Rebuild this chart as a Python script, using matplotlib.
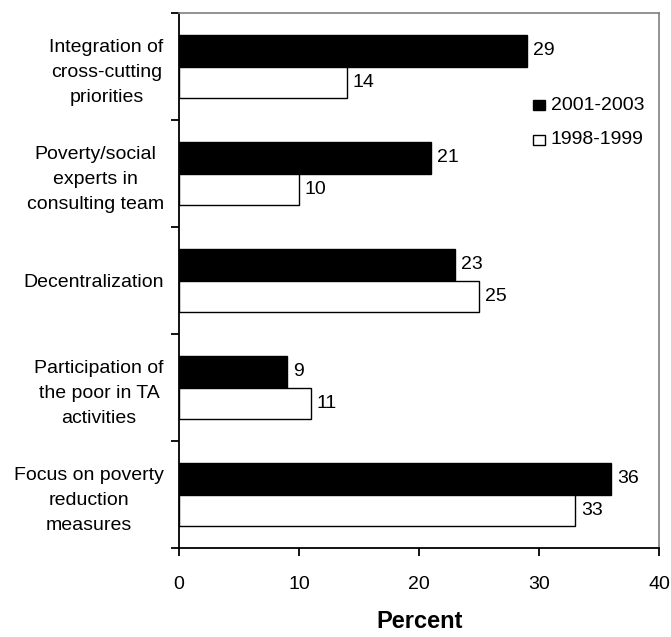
import numpy as np
import matplotlib.pyplot as plt
from matplotlib.patches import Rectangle

plt.rcParams['font.family'] = ['Liberation Sans', 'DejaVu Sans']

categories = ['Integration of\ncross-cutting\npriorities',
              'Poverty/social\nexperts in\nconsulting team',
              'Decentralization',
              'Participation of\nthe poor in TA\nactivities',
              'Focus on poverty\nreduction\nmeasures']
recent = [29, 21, 23, 9, 36]      # 2001-2003
earlier = [14, 10, 25, 11, 33]    # 1998-1999
series_names = ['2001-2003', '1998-1999']

fs = 14

fig = plt.figure(figsize=(6.71, 6.37), dpi=100)
ax = fig.add_axes([179 / 671, 89 / 637, 480 / 671, 535 / 637])

n = len(categories)
y = np.arange(n)[::-1]
h = 0.29

ax.barh(y + h / 2, recent, height=h, color='black', edgecolor='black', linewidth=1.0)
ax.barh(y - h / 2, earlier, height=h, color='white', edgecolor='black', linewidth=1.0)

for yi, v in zip(y, recent):
    ax.text(v + 0.5, yi + h / 2, str(v), va='center', ha='left', fontsize=fs)
for yi, v in zip(y, earlier):
    ax.text(v + 0.5, yi - h / 2, str(v), va='center', ha='left', fontsize=fs)

ax.set_xlim(0, 40)
ax.set_ylim(-0.5, n - 0.5)
ax.set_xticks([0, 10, 20, 30, 40])
ax.tick_params(axis='x', direction='out', length=6, width=1.3, labelsize=fs, pad=14)

# labels at the category centres, tick marks at the boundaries
ax.set_yticks(y)
ax.set_yticklabels(categories, fontsize=fs, multialignment='center', linespacing=1.6)
ax.tick_params(axis='y', which='major', length=0, pad=11)
ax.set_yticks(np.arange(-0.5, n), minor=True)
ax.tick_params(axis='y', which='minor', direction='out', length=6, width=1.3)

# axis title placed in figure pixels below the tick labels
fig.text(420 / 671, 1 - 628 / 637, 'Percent', fontsize=17, fontweight='bold',
         ha='center', va='baseline')

for side in ['left', 'bottom']:
    ax.spines[side].set_linewidth(1.3)
    ax.spines[side].set_color('black')
for side in ['top', 'right']:
    ax.spines[side].set_linewidth(1.2)
    ax.spines[side].set_color('#808080')

# legend drawn by hand: small boxes with series names
fills = ['black', 'white']
for i, (name, fc) in enumerate(zip(series_names, fills)):
    ypix = 637 - (105 + 35 * i)
    fig.patches.append(Rectangle((533 / 671, (ypix - 5) / 637), 12 / 671, 10 / 637,
                                 transform=fig.transFigure, facecolor=fc,
                                 edgecolor='black', linewidth=1.0))
    fig.text(551 / 671, ypix / 637, name, fontsize=fs, va='center', ha='left')

fig.savefig('out.png', dpi=100)
